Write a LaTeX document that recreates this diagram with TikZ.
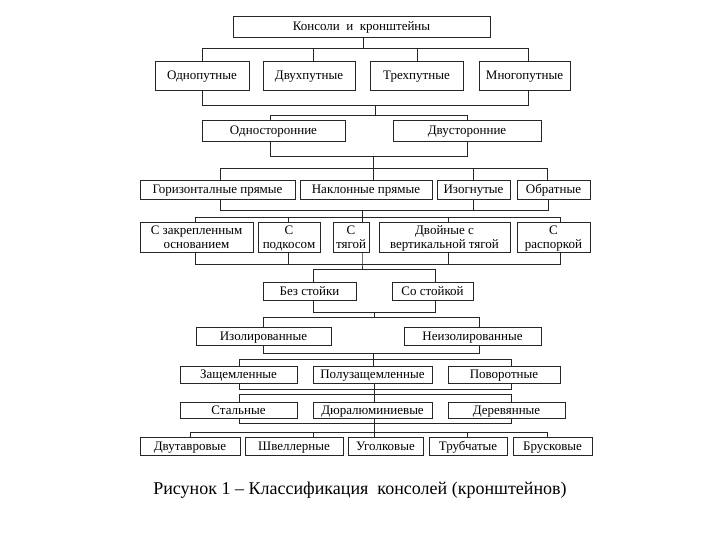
\documentclass[tikz,border=0pt]{standalone}
\usepackage{fontspec}
\setmainfont{Liberation Serif}
\begin{document}
\begin{tikzpicture}[x=1pt,y=-1pt,
  bx/.style={draw=black!85, line width=0.8pt, inner sep=0pt, align=center,
    font=\fontsize{13}{14}\selectfont, text=black, text height=10pt, text depth=2pt},
  two/.style={text height=24pt},
  ln/.style={draw=black!85, line width=0.8pt}]
\useasboundingbox (0,0) rectangle (720,540);
% row 1
\node[bx, minimum width=257, minimum height=21] (top) at (361.5,26.5) {Консоли\ \ и\ \ кронштейны};
% row 2
\node[bx, minimum width=94, minimum height=29] (a1) at (202,75.5) {Однопутные};
\node[bx, minimum width=92, minimum height=29] (a2) at (309,75.5) {Двухпутные};
\node[bx, minimum width=93, minimum height=29] (a3) at (416.5,75.5) {Трехпутные};
\node[bx, minimum width=91, minimum height=29] (a4) at (524.5,75.5) {Многопутные};
% row 3
\node[bx, minimum width=143, minimum height=21] (b1) at (273.5,130.5) {Односторонние};
\node[bx, minimum width=148, minimum height=21] (b2) at (467,130.5) {Двусторонние};
% row 4
\node[bx, minimum width=155, minimum height=19] (c1) at (217.5,189.5) {Горизонталные прямые};
\node[bx, minimum width=132, minimum height=19] (c2) at (366,189.5) {Наклонные прямые};
\node[bx, minimum width=73, minimum height=19] (c3) at (473.5,189.5) {Изогнутые};
\node[bx, minimum width=73, minimum height=19] (c4) at (553.5,189.5) {Обратные};
% row 5
\node[bx, two, minimum width=113, minimum height=30] (d1) at (196.5,237) {С закрепленным\\основанием};
\node[bx, two, minimum width=62, minimum height=30] (d2) at (289,237) {С\\подкосом};
\node[bx, two, minimum width=36, minimum height=30] (d3) at (351,237) {С\\тягой};
\node[bx, two, minimum width=131, minimum height=30] (d4) at (444.5,237) {Двойные с\\вертикальной тягой};
\node[bx, two, minimum width=73, minimum height=30] (d5) at (553.5,237) {С\\распоркой};
% row 6
\node[bx, minimum width=93, minimum height=18] (e1) at (309.5,291) {Без стойки};
\node[bx, minimum width=81, minimum height=18] (e2) at (432.5,291) {Со стойкой};
% row 7
\node[bx, minimum width=135, minimum height=18] (f1) at (263.5,336) {Изолированные};
\node[bx, minimum width=137, minimum height=18] (f2) at (472.5,336) {Неизолированные};
% row 8
\node[bx, minimum width=117, minimum height=17] (g1) at (238.5,374.5) {Защемленные};
\node[bx, minimum width=119, minimum height=17] (g2) at (372.5,374.5) {Полузащемленные};
\node[bx, minimum width=112, minimum height=17] (g3) at (504,374.5) {Поворотные};
% row 9
\node[bx, minimum width=117, minimum height=16] (h1) at (238.5,410) {Стальные};
\node[bx, minimum width=119, minimum height=16] (h2) at (372.5,410) {Дюралюминиевые};
\node[bx, minimum width=117, minimum height=16] (h3) at (506.5,410) {Деревянные};
% row 10
\node[bx, minimum width=100, minimum height=18] (i1) at (190,446) {Двутавровые};
\node[bx, minimum width=98, minimum height=18] (i2) at (294,446) {Швеллерные};
\node[bx, minimum width=75, minimum height=18] (i3) at (385.5,446) {Уголковые};
\node[bx, minimum width=78, minimum height=18] (i4) at (468,446) {Трубчатые};
\node[bx, minimum width=79, minimum height=18] (i5) at (552.5,446) {Брусковые};
% caption
\node[font=\fontsize{18}{21}\selectfont, text=black] (cap) at (360,490) {Рисунок 1 – Классификация\ \ консолей (кронштейнов)};

% connectors 1 -> 2
\draw[ln] ([xshift=1.5pt]top.south) -- ++(0,11) coordinate (j1);
\draw[ln] (a1.north) -- (a1.north |- j1) -- ([xshift=3.5pt]a4.north |- j1) -- ([xshift=3.5pt]a4.north);
\draw[ln] ([xshift=4pt]a2.north) -- ([xshift=4pt]a2.north |- j1);
\draw[ln] ([xshift=0.5pt]a3.north) -- ([xshift=0.5pt]a3.north |- j1);
% 2 -> 3
\draw[ln] (a1.south) -- ++(0,15) coordinate (k1) -- ([xshift=3.5pt]a4.south |- k1) -- ([xshift=3.5pt]a4.south);
\coordinate (k2) at (375,105);
\draw[ln] (k2) -- ++(0,10) coordinate (k3);
\draw[ln] ([xshift=-3.5pt]b1.north) -- ([xshift=-3.5pt]b1.north |- k3) -- (b2.north |- k3) -- (b2.north);
% 3 -> 4
\draw[ln] ([xshift=-3.5pt]b1.south) -- ++(0,15) coordinate (m1) -- (b2.south |- m1) -- (b2.south);
\coordinate (m2) at (373,156);
\draw[ln] (m2) -- ++(0,12) coordinate (m3);
\draw[ln] ([xshift=2.5pt]c1.north) -- ([xshift=2.5pt]c1.north |- m3) -- ([xshift=-6.5pt]c4.north |- m3) -- ([xshift=-6.5pt]c4.north);
\draw[ln] ([xshift=7pt]c2.north) -- ([xshift=7pt]c2.north |- m3);
\draw[ln] ([xshift=-0.5pt]c3.north) -- ([xshift=-0.5pt]c3.north |- m3);
% 4 -> 5
\draw[ln] ([xshift=2.5pt]c1.south) -- ++(0,11) coordinate (n1) -- ([xshift=-5.5pt]c4.south |- n1) -- ([xshift=-5.5pt]c4.south);
\draw[ln] ([xshift=-0.5pt]c3.south) -- ([xshift=-0.5pt]c3.south |- n1);
\coordinate (n2) at (362,210);
\draw[ln] (n2) -- ++(0,7) coordinate (n3);
\draw[ln] ([xshift=-1.5pt]d1.north) -- ([xshift=-1.5pt]d1.north |- n3) -- ([xshift=6.5pt]d5.north |- n3) -- ([xshift=6.5pt]d5.north);
\draw[ln] ([xshift=-1pt]d2.north) -- ([xshift=-1pt]d2.north |- n3);
\draw[ln] ([xshift=11pt]d3.north) -- ([xshift=11pt]d3.north |- n3);
\draw[ln] ([xshift=3.5pt]d4.north) -- ([xshift=3.5pt]d4.north |- n3);
% 5 -> 6
\draw[ln] ([xshift=-1.5pt]d1.south) -- ++(0,12) coordinate (p1) -- ([xshift=6.5pt]d5.south |- p1) -- ([xshift=6.5pt]d5.south);
\draw[ln] ([xshift=-1pt]d2.south) -- ([xshift=-1pt]d2.south |- p1);
\draw[ln] ([xshift=3.5pt]d4.south) -- ([xshift=3.5pt]d4.south |- p1);
\draw[ln] ([xshift=11pt]d3.south) -- ([xshift=11pt]d3.south |- p1) -- ++(0,5) coordinate (p3);
\draw[ln] ([xshift=3.5pt]e1.north) -- ([xshift=3.5pt]e1.north |- p3) -- ([xshift=2.5pt]e2.north |- p3) -- ([xshift=2.5pt]e2.north);
% 6 -> 7
\draw[ln] ([xshift=3.5pt]e1.south) -- ++(0,12) coordinate (q1) -- ([xshift=2.5pt]e2.south |- q1) -- ([xshift=2.5pt]e2.south);
\coordinate (q2) at (374,312);
\draw[ln] (q2) -- ++(0,5) coordinate (q3);
\draw[ln] ([xshift=-0.5pt]f1.north) -- ([xshift=-0.5pt]f1.north |- q3) -- ([xshift=6.5pt]f2.north |- q3) -- ([xshift=6.5pt]f2.north);
% 7 -> 8
\draw[ln] ([xshift=-0.5pt]f1.south) -- ++(0,8) coordinate (r1) -- ([xshift=6.5pt]f2.south |- r1) -- ([xshift=6.5pt]f2.south);
\coordinate (r2) at (373,353);
\draw[ln] (r2) -- ++(0,6) coordinate (r3);
\draw[ln] ([xshift=0.5pt]g1.north) -- ([xshift=0.5pt]g1.north |- r3) -- ([xshift=7pt]g3.north |- r3) -- ([xshift=7pt]g3.north);
\draw[ln] ([xshift=0.5pt]g2.north) -- ([xshift=0.5pt]g2.north |- r3);
% 8 -> 9
\draw[ln] ([xshift=0.5pt]g1.south) -- ++(0,6) coordinate (s1) -- ([xshift=7pt]g3.south |- s1) -- ([xshift=7pt]g3.south);
\draw[ln] ([xshift=1.5pt]g2.south) -- ([xshift=1.5pt]h2.north);
\draw[ln] ([xshift=0.5pt]h1.north) -- ++(0,-7) coordinate (s2) -- ([xshift=4.5pt]h3.north |- s2) -- ([xshift=4.5pt]h3.north);
% 9 -> 10
\draw[ln] ([xshift=0.5pt]h1.south) -- ++(0,5) coordinate (u1) -- ([xshift=4.5pt]h3.south |- u1) -- ([xshift=4.5pt]h3.south);
\draw[ln] ([xshift=1.5pt]h2.south) -- ++(0,14) coordinate (u2);
\draw[ln] (i1.north) -- (i1.north |- u2) -- ([xshift=-5.5pt]i5.north |- u2) -- ([xshift=-5.5pt]i5.north);
\draw[ln] ([xshift=19pt]i2.north) -- ([xshift=19pt]i2.north |- u2);
\draw[ln] ([xshift=-11.5pt]i3.north) -- ([xshift=-11.5pt]i3.north |- u2);
\draw[ln] ([xshift=-1pt]i4.north) -- ([xshift=-1pt]i4.north |- u2);
\end{tikzpicture}
\end{document}
